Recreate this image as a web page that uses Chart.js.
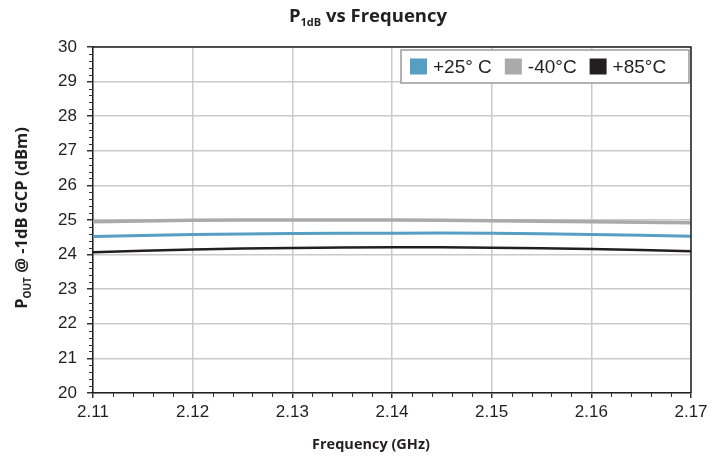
<!DOCTYPE html>
<html>
<head>
<meta charset="utf-8">
<script src="https://cdn.jsdelivr.net/npm/chart.js@4.4.0/dist/chart.umd.min.js"></script>
<style>
html,body{margin:0;padding:0;background:#fff;}
#wrap{width:725px;height:458px;position:relative;}
</style>
</head>
<body>
<div id="wrap"><canvas id="c" width="725" height="458"></canvas></div>
<script>
// ---- data ----
const freqs = [2.11, 2.12, 2.13, 2.14, 2.15, 2.16, 2.17];
const p25 = [24.52, 24.58, 24.61, 24.62, 24.62, 24.58, 24.53];
const m40 = [24.95, 24.99, 25.00, 25.00, 24.98, 24.95, 24.92];
const p85 = [24.07, 24.15, 24.19, 24.21, 24.20, 24.16, 24.10];
const seriesNames = ['+25\u00b0 C', '-40\u00b0C', '+85\u00b0C'];
const xTicks = [2.11, 2.12, 2.13, 2.14, 2.15, 2.16, 2.17];
const yTicks = [20, 21, 22, 23, 24, 25, 26, 27, 28, 29, 30];

const colors = ['#579ec3', '#aaaaad', '#231f20'];
const toPts = arr => freqs.map((f, i) => ({x: f, y: arr[i]}));

const TICK_FONT = {family: 'Liberation Sans', size: 17};
const TITLE_FAMILY = 'Open Sans';

const decorPlugin = {
  id: 'decor',
  afterDraw(chart) {
    const ctx = chart.ctx;
    const a = chart.chartArea;
    const xs = chart.scales.x, ys = chart.scales.y;
    ctx.save();
    // top & right border
    ctx.strokeStyle = '#231f20';
    ctx.lineWidth = 1.5;
    ctx.beginPath();
    ctx.moveTo(a.left, a.top); ctx.lineTo(a.right, a.top); ctx.lineTo(a.right, a.bottom);
    ctx.stroke();
    // minor ticks
    ctx.strokeStyle = '#333';
    ctx.lineWidth = 1;
    ctx.beginPath();
    for (let v = 20; v <= 30.0001; v += 0.2) {
      if (Math.abs(v - Math.round(v)) < 1e-6) continue;
      const y = Math.round(ys.getPixelForValue(v)) + 0.5;
      ctx.moveTo(a.left - 4, y); ctx.lineTo(a.left, y);
    }
    for (let v = 2.11; v <= 2.17001; v += 0.002) {
      const r = Math.round(v * 1000);
      if (r % 10 === 0) continue;
      const x = Math.round(xs.getPixelForValue(v)) + 0.5;
      ctx.moveTo(x, a.bottom); ctx.lineTo(x, a.bottom + 4);
    }
    ctx.stroke();

    // chart title with subscript
    ctx.fillStyle = '#231f20';
    ctx.textBaseline = 'alphabetic';
    const big = 'bold 18.5px "' + TITLE_FAMILY + '"';
    const small = 'bold 11px "' + TITLE_FAMILY + '"';
    ctx.font = big; const wP = ctx.measureText('P').width; const wRest = ctx.measureText(' vs Frequency').width;
    ctx.font = small; const wSub = ctx.measureText('1dB').width;
    let tx = 368 - (wP + wSub + wRest) / 2;
    const ty = 22;
    ctx.font = big; ctx.fillText('P', tx, ty); tx += wP;
    ctx.font = small; ctx.fillText('1dB', tx, ty + 4); tx += wSub;
    ctx.font = big; ctx.fillText(' vs Frequency', tx, ty);

    // x axis title
    ctx.font = 'bold 14.5px "' + TITLE_FAMILY + '"';
    ctx.textAlign = 'center';
    ctx.fillText('Frequency (GHz)', 371, 449);

    // y axis title (rotated) with subscript
    ctx.save();
    ctx.translate(27, 218);
    ctx.rotate(-Math.PI / 2);
    ctx.textAlign = 'left';
    const yb = 'bold 16.5px "' + TITLE_FAMILY + '"';
    const ys2 = 'bold 10px "' + TITLE_FAMILY + '"';
    ctx.font = yb; const w1 = ctx.measureText('P').width; const w3 = ctx.measureText(' @ -1dB GCP (dBm)').width;
    ctx.font = ys2; const w2 = ctx.measureText('OUT').width;
    let yx = -(w1 + w2 + w3) / 2;
    ctx.font = yb; ctx.fillText('P', yx, 0); yx += w1;
    ctx.font = ys2; ctx.fillText('OUT', yx, 4); yx += w2;
    ctx.font = yb; ctx.fillText(' @ -1dB GCP (dBm)', yx, 0);
    ctx.restore();

    // legend inside plot
    const lx = 401, ly = 50, lw = 288, lh = 33;
    ctx.fillStyle = '#fff';
    ctx.fillRect(lx, ly, lw, lh);
    ctx.strokeStyle = '#9a9a9a';
    ctx.lineWidth = 1.5;
    ctx.strokeRect(lx, ly, lw, lh);
    ctx.font = '19px "Liberation Sans"';
    ctx.textAlign = 'left';
    ctx.textBaseline = 'middle';
    let cx = lx + 9;
    const cy = ly + lh / 2;
    chart.data.datasets.slice().sort((p, q) => p.legendOrder - q.legendOrder).forEach(ds => {
      ctx.fillStyle = ds.borderColor;
      ctx.fillRect(cx, cy - 8, 17, 16);
      cx += 23;
      ctx.fillStyle = '#231f20';
      ctx.fillText(ds.label, cx, cy + 1);
      cx += ctx.measureText(ds.label).width + 13;
    });
    ctx.restore();
  }
};

const ds = (label, data, color, width, order, legendOrder) => ({
  label, data, borderColor: color, backgroundColor: color, borderWidth: width,
  pointRadius: 0, tension: 0.4, fill: false, order, legendOrder
});

new Chart(document.getElementById('c'), {
  type: 'line',
  data: {
    datasets: [
      ds(seriesNames[0], toPts(p25), colors[0], 3, 2, 0),
      ds(seriesNames[1], toPts(m40), colors[1], 3.5, 3, 1),
      ds(seriesNames[2], toPts(p85), colors[2], 2.5, 1, 2)
    ]
  },
  options: {
    responsive: false,
    animation: false,
    devicePixelRatio: 1,
    layout: {padding: {top: 47, right: 34, left: 0, bottom: 0}},
    plugins: {legend: {display: false}, title: {display: false}, tooltip: {enabled: false}},
    scales: {
      x: {
        type: 'linear', min: 2.11, max: 2.17,
        afterBuildTicks: s => { s.ticks = xTicks.map(v => ({value: v})); },
        ticks: {font: TICK_FONT, color: '#231f20', padding: 4, maxRotation: 0,
                callback: v => v.toFixed(2)},
        grid: {color: '#cacaca', lineWidth: 1.5, tickLength: 5, tickColor: '#333'},
        border: {display: true, color: '#231f20', width: 1.5},
        afterFit: s => { s.height = 65; }
      },
      y: {
        min: 20, max: 30,
        afterBuildTicks: s => { s.ticks = yTicks.map(v => ({value: v})); },
        ticks: {font: TICK_FONT, color: '#231f20', padding: 10, callback: v => String(v)},
        grid: {color: '#cacaca', lineWidth: 1.5, tickLength: 6, tickColor: '#333'},
        border: {display: true, color: '#231f20', width: 1.5},
        afterFit: s => { s.width = 93; }
      }
    }
  },
  plugins: [decorPlugin]
});
</script>
</body>
</html>
